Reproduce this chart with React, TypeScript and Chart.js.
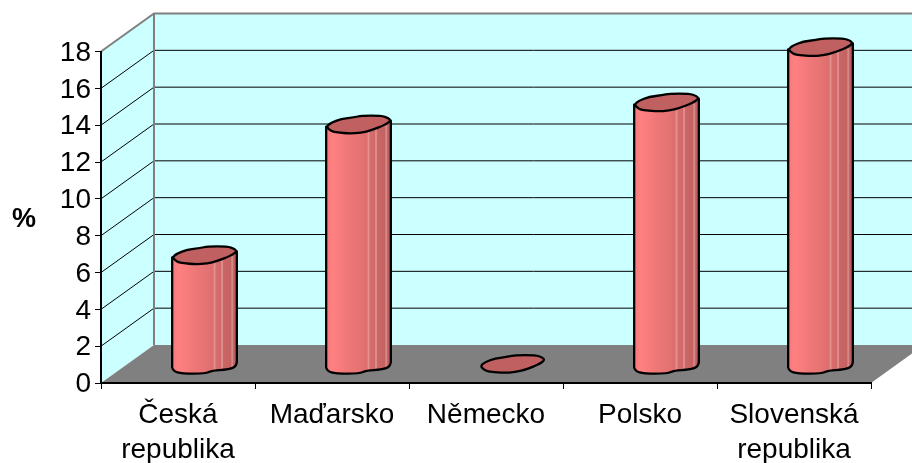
import React, { useEffect, useRef } from "react";
import { Chart, BarController, registerables } from "chart.js";

const categories = [
  ["Česká", "republika"],
  "Maďarsko",
  "Německo",
  "Polsko",
  ["Slovenská", "republika"],
];
const percentValues = [6.0, 13.1, 0.1, 14.3, 17.3];
const axisMax = 18;
const axisStep = 2;
const axisTitle = "%";

const FONT = '"Liberation Sans", Arial, sans-serif';
const WALL = "#ccffff";
const FRAME = "#808080";
const DEPTH_X = 53;
const DEPTH_Y = 38;
const BAR_SHIFT_X = 26.5;
const BAR_SHIFT_Y = 17;

// Top cap outline, in units of the cylinder's half width.
const capOutline = [
  [-1, 0.06], [-0.85, -0.06], [-0.54, -0.18], [-0.125, -0.23], [0.08, -0.28],
  [0.71, -0.28], [0.92, -0.21], [1, -0.125], [0.81, 0.01], [0.4, 0.17],
  [0.08, 0.25], [-0.28, 0.27], [-0.65, 0.24], [-0.85, 0.2],
];
// Visible front edge of the base, left to right.
const baseEdge = [
  [-1, 0.06], [-0.97, 0.17], [-0.7, 0.25], [0.03, 0.25], [0.24, 0.15],
  [0.71, 0.13], [0.95, 0.05], [1, -0.094],
];
// Vertical shading bands across the cylinder body.
const bodyBands: [number, string][] = [
  [0.0, "#f47a7a"], [0.1, "#ff8080"], [0.22, "#f87c7c"], [0.35, "#ee7777"],
  [0.52, "#e67373"], [0.635, "#dc6e6e"], [0.645, "#e29090"], [0.665, "#e29090"], [0.675, "#d86c6c"],
  [0.75, "#d26969"], [0.76, "#dc8c8c"], [0.78, "#dc8c8c"], [0.79, "#cc6666"], [0.91, "#c46262"],
  [0.92, "#d48888"], [0.94, "#d48888"], [0.95, "#bf6060"], [1.0, "#b85c5c"],
];

function traceSmooth(ctx: CanvasRenderingContext2D, pts: number[][]) {
  // Closed curve through the midpoints of the outline segments.
  const n = pts.length;
  const mid = (a: number[], b: number[]) => [(a[0] + b[0]) / 2, (a[1] + b[1]) / 2];
  const start = mid(pts[n - 1], pts[0]);
  ctx.moveTo(start[0], start[1]);
  for (let i = 0; i < n; i++) {
    const m = mid(pts[i], pts[(i + 1) % n]);
    ctx.quadraticCurveTo(pts[i][0], pts[i][1], m[0], m[1]);
  }
  ctx.closePath();
}

class CylinderController extends BarController {
  static id = "cylinder";
  static defaults = BarController.defaults;
  static overrides = BarController.overrides;

  draw() {
    const ctx = this.chart.ctx as CanvasRenderingContext2D;
    const meta = this.getMeta();
    for (const el of meta.data as any[]) {
      const half = el.width / 2;
      const cx = el.x + BAR_SHIFT_X;
      const topY = el.y - BAR_SHIFT_Y;
      const baseY = el.base - BAR_SHIFT_Y;
      const cap = capOutline.map(([u, v]) => [cx + u * half, topY + v * half]);
      const edge = baseEdge.map(([u, v]) => [cx + u * half, baseY + v * half]);

      const grad = ctx.createLinearGradient(cx - half, 0, cx + half, 0);
      bodyBands.forEach(([stop, colour]) => grad.addColorStop(stop, colour));

      ctx.save();
      ctx.lineJoin = "round";
      ctx.lineWidth = 2.3;
      ctx.strokeStyle = "#000000";

      // A near-zero value shows only its cap.
      if (baseY - topY > 3) {
        ctx.beginPath();
        ctx.moveTo(cap[0][0], cap[0][1]);
        ctx.lineTo(edge[0][0], edge[0][1]);
        for (let i = 1; i < edge.length - 1; i++) {
          const mx = (edge[i][0] + edge[i + 1][0]) / 2;
          const my = (edge[i][1] + edge[i + 1][1]) / 2;
          ctx.quadraticCurveTo(edge[i][0], edge[i][1], mx, my);
        }
        ctx.lineTo(edge[edge.length - 1][0], edge[edge.length - 1][1]);
        ctx.lineTo(cap[7][0], cap[7][1]);
        ctx.closePath();
        ctx.fillStyle = grad;
        ctx.fill();
        ctx.stroke();
      }

      ctx.beginPath();
      traceSmooth(ctx, cap);
      ctx.fillStyle = el.options.borderColor;
      ctx.fill();
      ctx.stroke();
      ctx.restore();
    }
  }
}

// Back wall, side wall, floor and the gridlines that run across the walls.
const roomPlugin = {
  id: "room",
  beforeDraw(chart: any) {
    const { ctx, chartArea: a, scales } = chart;
    const y = scales.y;
    const base = y.getPixelForValue(0);
    const top = y.getPixelForValue(axisMax);
    const backLeft = a.left + DEPTH_X;
    const backRight = a.right + DEPTH_X;

    ctx.save();
    ctx.fillStyle = "#ffffff";
    ctx.fillRect(0, 0, chart.width, chart.height);

    ctx.fillStyle = WALL;
    ctx.beginPath();
    ctx.moveTo(a.left, base);
    ctx.lineTo(backLeft, base - DEPTH_Y);
    ctx.lineTo(backRight, base - DEPTH_Y);
    ctx.lineTo(backRight, top - DEPTH_Y);
    ctx.lineTo(backLeft, top - DEPTH_Y);
    ctx.lineTo(a.left, top);
    ctx.closePath();
    ctx.fill();

    ctx.fillStyle = FRAME;
    ctx.beginPath();
    ctx.moveTo(a.left, base);
    ctx.lineTo(a.right, base);
    ctx.lineTo(backRight, base - DEPTH_Y);
    ctx.lineTo(backLeft, base - DEPTH_Y);
    ctx.closePath();
    ctx.fill();

    ctx.strokeStyle = "#000000";
    ctx.lineWidth = 1;
    for (const t of y.ticks) {
      if (t.value === 0 || t.value === axisMax) continue;
      const py = y.getPixelForValue(t.value);
      ctx.beginPath();
      ctx.moveTo(a.left, py);
      ctx.lineTo(backLeft, py - DEPTH_Y);
      ctx.lineTo(backRight, py - DEPTH_Y);
      ctx.stroke();
    }

    ctx.strokeStyle = FRAME;
    ctx.lineWidth = 2;
    ctx.beginPath();
    ctx.moveTo(a.left, top);
    ctx.lineTo(backLeft, top - DEPTH_Y);
    ctx.lineTo(backRight, top - DEPTH_Y);
    ctx.moveTo(backLeft, top - DEPTH_Y);
    ctx.lineTo(backLeft, base - DEPTH_Y);
    ctx.stroke();
    ctx.restore();
  },
  afterDraw(chart: any) {
    const { ctx } = chart;
    ctx.save();
    ctx.font = `bold 27px ${FONT}`;
    ctx.fillStyle = "#000000";
    ctx.textAlign = "center";
    ctx.textBaseline = "middle";
    ctx.fillText(axisTitle, 24, 220);
    ctx.restore();
  },
};

Chart.register(...registerables, CylinderController);

export default function App() {
  const ref = useRef<HTMLCanvasElement>(null);

  useEffect(() => {
    document.body.style.margin = "0";
    const chart = new Chart(ref.current as HTMLCanvasElement, {
      type: "cylinder" as any,
      data: {
        labels: categories as any,
        datasets: [
          {
            label: axisTitle,
            data: percentValues,
            backgroundColor: "#ff8080",
            borderColor: "#c06060",
            barPercentage: 0.84,
            categoryPercentage: 0.5,
            clip: false as any,
          },
        ],
      },
      options: {
        responsive: false,
        animation: false,
        layout: { padding: { top: 51.5, right: 41, left: 0, bottom: 0 } },
        plugins: { legend: { display: false }, tooltip: { enabled: false } },
        scales: {
          x: {
            type: "category",
            offset: true,
            afterFit: (s: any) => { s.height = 80; },
            border: { color: "#000000", width: 2 },
            grid: { offset: true, drawOnChartArea: false, tickLength: 6, color: "#000000", tickColor: "#000000" },
            ticks: {
              color: "#000000",
              padding: 8,
              autoSkip: false,
              maxRotation: 0,
              minRotation: 0,
              font: { family: FONT, size: 28, lineHeight: 1.28 },
            },
          },
          y: {
            type: "linear",
            min: 0,
            max: axisMax,
            afterFit: (s: any) => { s.width = 101; },
            border: { color: "#000000", width: 2 },
            grid: { drawOnChartArea: false, tickLength: 6, color: "#000000", tickColor: "#000000" },
            ticks: {
              stepSize: axisStep,
              autoSkip: false,
              color: "#000000",
              padding: 4,
              labelOffset: 1.5,
              font: { family: FONT, size: 28 },
            },
          },
        },
      } as any,
      plugins: [roomPlugin],
    });
    return () => chart.destroy();
  }, []);

  return <canvas ref={ref} width={912} height={463} style={{ display: "block" }} />;
}
